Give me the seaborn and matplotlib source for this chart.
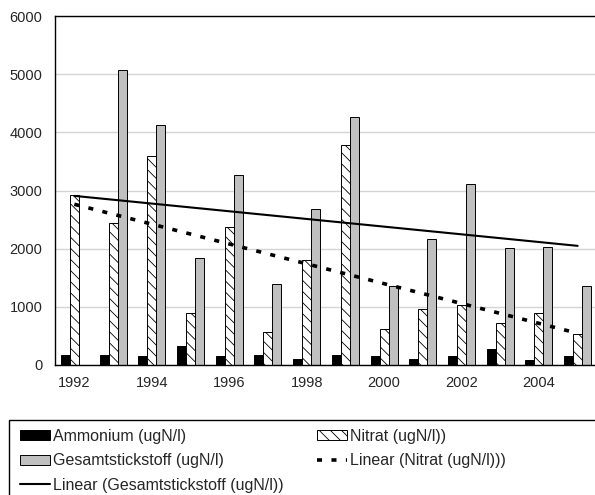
import numpy as np
import pandas as pd
import matplotlib
matplotlib.use("Agg")
import matplotlib.pyplot as plt
import seaborn as sns
from matplotlib.patches import Patch, Rectangle
from matplotlib.lines import Line2D

# values (ugN/l)
years = list(range(1992, 2006))
ammonium = [170, 170, 150, 330, 160, 180, 100, 170, 160, 100, 160, 280, 80, 150]
nitrat = [2920, 2440, 3590, 900, 2370, 570, 1800, 3780, 620, 970, 1040, 730, 890, 540]
# 1992 has no value for total nitrogen; Excel counts the blank as 0 in the trend
gesamt = [0, 5070, 4130, 1840, 3270, 1390, 2690, 4270, 1360, 2160, 3120, 2010, 2030, 1350]

series_names = ["Ammonium (ugN/l)", "Nitrat (ugN/l))", "Gesamtstickstoff (ugN/l)"]
trend_names = ["Linear (Nitrat (ugN/l)))", "Linear (Gesamtstickstoff (ugN/l))"]
tick_years = years[::2]

sns.set_style("white")
plt.rcParams["font.family"] = ["Liberation Sans", "DejaVu Sans"]
plt.rcParams["hatch.linewidth"] = 0.6

df = pd.DataFrame({
    "Jahr": years * 3,
    "Wert": ammonium + nitrat + gesamt,
    "Serie": [series_names[0]] * 14 + [series_names[1]] * 14 + [series_names[2]] * 14,
})

fig = plt.figure(figsize=(5.95, 4.95), dpi=100)
ax = fig.add_axes([55 / 595, 1 - 365 / 495, 542 / 595, 349 / 495])

colors = ["black", "white", "#c0c0c0"]
sns.barplot(data=df, x="Jahr", y="Wert", hue="Serie", hue_order=series_names,
            palette=colors, width=0.7, errorbar=None, edgecolor="black",
            linewidth=0.7, saturation=1, legend=False, ax=ax)

for bar in ax.containers[1]:
    bar.set_hatch("\\\\\\")

# linear trends over category index, like Excel does
xs = np.arange(len(years))
for vals, style in [(nitrat, dict(lw=2.6, dashes=(1.4, 2.6))), (gesamt, dict(lw=1.5))]:
    k, d = np.polyfit(xs, vals, 1)
    ax.plot(xs, k * xs + d, color="black", zorder=5, **style)

ax.set_xlim(-0.5, 13.5)
ax.set_ylim(0, 6000)
ax.set_yticks(range(0, 6001, 1000))
ax.yaxis.grid(True, color="#d4d4d4", lw=1)
ax.set_axisbelow(True)

ax.set_xticks([years.index(y) for y in tick_years])
ax.set_xticklabels([str(y) for y in tick_years])
ax.set_xticks(np.arange(-0.5, 13.6, 1), minor=True)
ax.tick_params(axis="x", which="major", length=0, pad=8, labelsize=10.5)
ax.tick_params(axis="x", which="minor", length=5, width=1, direction="out", color="black")
ax.tick_params(axis="y", length=5, width=1, direction="out", color="black", pad=4, labelsize=10.5)
ax.set_xlabel("")
ax.set_ylabel("")

for side in ["left", "bottom", "top"]:
    ax.spines[side].set_color("black")
    ax.spines[side].set_linewidth(1)
ax.spines["right"].set_visible(False)

handles = [
    Patch(facecolor="black", edgecolor="black", lw=0.7),
    Patch(facecolor="#c0c0c0", edgecolor="black", lw=0.7),
    Line2D([], [], color="black", lw=1.5),
    Patch(facecolor="white", edgecolor="black", hatch="\\\\\\", lw=0.7),
    Line2D([], [], color="black", lw=2.6, dashes=(1.4, 2.6)),
]
labels = [series_names[0], series_names[2], trend_names[1], series_names[1], trend_names[0]]
ax.legend(handles, labels, ncol=2, frameon=False, loc="upper left",
          bbox_to_anchor=(20 / 595, 1 - 429 / 495), bbox_transform=fig.transFigure,
          borderaxespad=0, borderpad=0, fontsize=11.5, handlelength=1.9,
          handleheight=0.6, handletextpad=0.15, labelspacing=0.58, columnspacing=2.1)

fig.patches.append(Rectangle((9 / 595, -0.2), 1.0, 0.2 + 1 - 420 / 495,
                             transform=fig.transFigure, fill=False,
                             edgecolor="black", lw=1))

fig.savefig("out.png", dpi=100)
